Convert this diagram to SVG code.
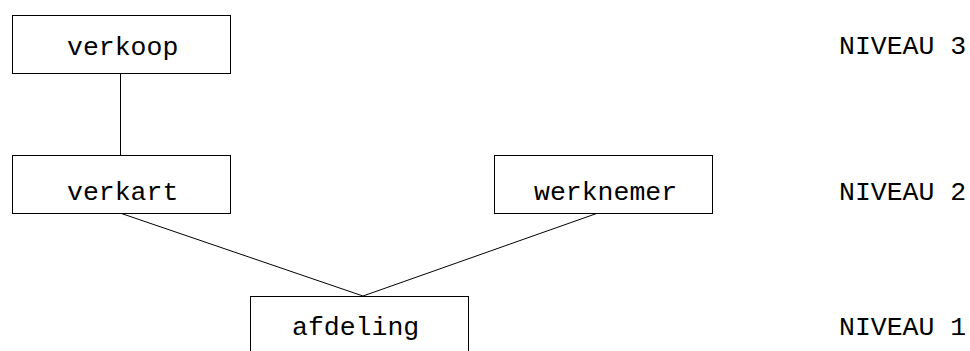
<svg xmlns="http://www.w3.org/2000/svg" width="970" height="351" viewBox="0 0 970 351">
  <style>
    .box { fill: #ffffff; stroke: #000000; stroke-width: 1; }
    .lbl { font-family: "Liberation Mono", "Courier New", monospace; font-size: 26.5px; fill: #000000; }
    .edge { stroke: #000000; stroke-width: 1; fill: none; }
  </style>
  <rect width="970" height="351" fill="#ffffff"/>
  <!-- connectors between levels -->
  <g id="connectors">
    <line class="edge" x1="120.5" y1="73" x2="120.5" y2="155"/>
    <line class="edge" x1="120" y1="213" x2="363" y2="296"/>
    <line class="edge" x1="598" y1="213" x2="363" y2="296"/>
  </g>
  <g id="verkoop">
    <rect class="box" x="12.5" y="15.5" width="218" height="58"/>
    <text class="lbl" x="67" y="55">verkoop</text>
  </g>
  <g id="verkart">
    <rect class="box" x="12.5" y="155.5" width="218" height="58"/>
    <text class="lbl" x="67" y="200">verkart</text>
  </g>
  <g id="werknemer">
    <rect class="box" x="494.5" y="155.5" width="218" height="58"/>
    <text class="lbl" x="534" y="200">werknemer</text>
  </g>
  <g id="afdeling">
    <rect class="box" x="250.5" y="296.5" width="218" height="70"/>
    <text class="lbl" x="292" y="335">afdeling</text>
  </g>
  <!-- level labels -->
  <g id="levels">
    <text class="lbl" x="839" y="54">NIVEAU 3</text>
    <text class="lbl" x="839" y="200">NIVEAU 2</text>
    <text class="lbl" x="839" y="335">NIVEAU 1</text>
  </g>
</svg>
